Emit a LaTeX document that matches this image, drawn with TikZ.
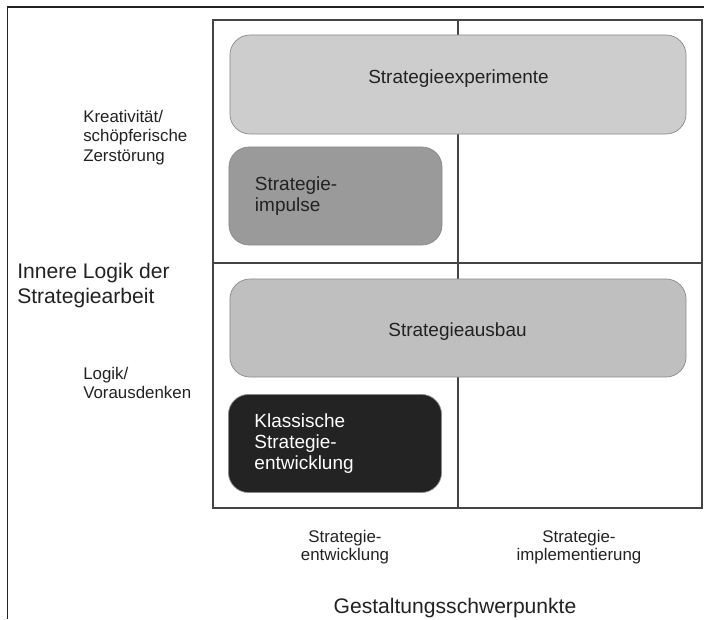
\documentclass[tikz,border=0pt]{standalone}
\usepackage{fontspec}
\setmainfont{Liberation Sans}

\definecolor{lightfill}{HTML}{CDCDCD}
\definecolor{midfill}{HTML}{BFBFBF}
\definecolor{darkfill}{HTML}{9A9A9A}
\definecolor{blackfill}{HTML}{232323}
\definecolor{boxline}{HTML}{8A8A8A}
\definecolor{gridline}{HTML}{444444}
\definecolor{textgray}{HTML}{222222}

\tikzset{
	widebox/.style={draw=boxline, line width=0.5pt, rounded corners=0.5cm,
		minimum width=11.4cm, minimum height=2.475cm, inner sep=0pt},
	smallbox/.style={draw=boxline, line width=0.5pt, rounded corners=0.5cm,
		minimum width=5.325cm, minimum height=2.45cm, inner ysep=0pt, inner xsep=0.65cm,
		text width=4.025cm, align=left, font=\fontsize{13.5}{14.8}\selectfont},
	boxtext/.style={font=\fontsize{13.5}{16}\selectfont, text=textgray, inner sep=0pt},
	sidetext/.style={font=\fontsize{12}{13.9}\selectfont, text=textgray, inner sep=0pt,
		align=left, anchor=north west},
	axistext/.style={font=\fontsize{15}{17.8}\selectfont, text=textgray, inner sep=0pt},
	ticktext/.style={font=\fontsize{12}{13.5}\selectfont, text=textgray, inner sep=0pt,
		align=center, anchor=north}
}

\begin{document}
\begin{tikzpicture}[x=0.025cm, y=-0.025cm]
		\useasboundingbox (0,0) rectangle (704,619);
		\draw[textgray, line width=1pt] (7.5,619) -- (7.5,7) -- (704,7);
	
		\draw[gridline, line width=0.8pt] (213,20) rectangle (702,508);
		\draw[gridline, line width=0.8pt] (458,20) -- (458,508);
		\draw[gridline, line width=0.8pt] (213,263) -- (702,263);
	
		\node[widebox, fill=lightfill] (experimente) at (458,84.5) {};
		\node[boxtext] (experimentetext) at (458.5,79) {Strategieexperimente};
		\node[smallbox, fill=darkfill, text=textgray] (impulse) at (335.5,196) {Strategie-\\impulse};
	
		\node[widebox, fill=midfill, minimum height=2.45cm] (ausbau) at (458,328) {};
		\node[boxtext] (ausbautext) at (457.5,332) {Strategieausbau};
		\node[smallbox, fill=blackfill, text=white] (klassisch) at (335,443.5) {Klassische\\Strategie-\\entwicklung};
	
		\node[sidetext] (kreativ) at (83,109.5) {Kreativität/\\schöpferische\\Zerstörung};
		\node[axistext, align=left, anchor=north west] (innere) at (17,262.5) {Innere Logik der\\Strategiearbeit};
		\node[sidetext] (logik) at (83,366.5) {Logik/\\Vorausdenken};
	
		\node[ticktext] (entwicklung) at (345,529.5) {Strategie-\\entwicklung};
		\node[ticktext] (implementierung) at (579,529.5) {Strategie-\\implementierung};
		\node[axistext, anchor=north] (gestaltung) at (455,597.5) {Gestaltungsschwerpunkte};
	\end{tikzpicture}
\end{document}
